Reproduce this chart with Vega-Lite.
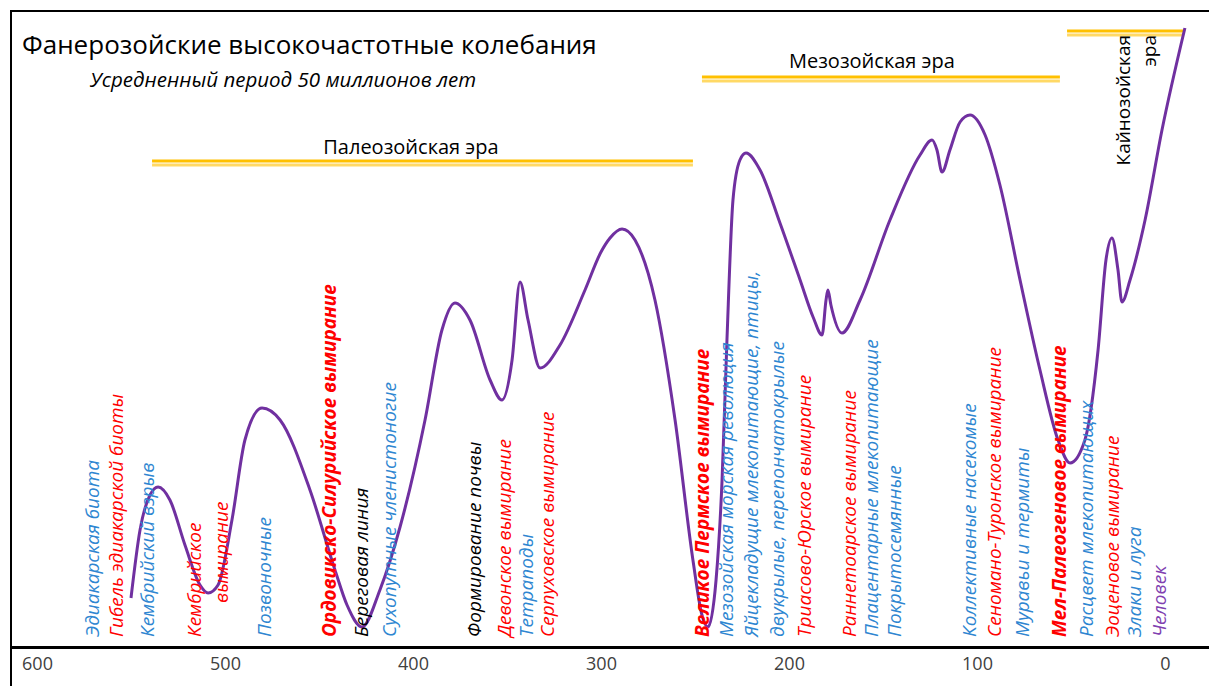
{
  "$schema": "https://vega.github.io/schema/vega-lite/v6.json",
  "width": 1200,
  "height": 677,
  "autosize": "none",
  "padding": {"left": 11, "top": 11, "right": 0, "bottom": 0},
  "background": "white",
  "config": {"view": {"stroke": "black", "strokeWidth": 2}, "font": "Open Sans"},
  "title": {
    "text": "Фанерозойские высокочастотные колебания",
    "anchor": "start",
    "frame": "group",
    "offset": -69,
    "dx": 11,
    "fontSize": 26,
    "fontWeight": "normal",
    "font": "Open Sans",
    "color": "black",
    "baseline": "alphabetic"
  },
  "datasets": {
    "curve": [
      {"age": 550.0, "v": 49}, {"age": 545.2, "v": 117}, {"age": 539.9, "v": 152}, {"age": 535.6, "v": 160},
      {"age": 529.3, "v": 147}, {"age": 521.3, "v": 102}, {"age": 513.3, "v": 62}, {"age": 509.0, "v": 54},
      {"age": 503.7, "v": 62}, {"age": 496.3, "v": 127}, {"age": 489.4, "v": 207}, {"age": 480.3, "v": 239},
      {"age": 470.7, "v": 227}, {"age": 454.8, "v": 157}, {"age": 441.5, "v": 77}, {"age": 435.1, "v": 42},
      {"age": 427.1, "v": 20}, {"age": 417.6, "v": 57}, {"age": 406.9, "v": 120}, {"age": 393.6, "v": 227},
      {"age": 384.6, "v": 317}, {"age": 377.7, "v": 344}, {"age": 369.7, "v": 327}, {"age": 359.0, "v": 267},
      {"age": 352.7, "v": 247}, {"age": 347.3, "v": 287}, {"age": 343.1, "v": 365}, {"age": 338.8, "v": 327},
      {"age": 332.4, "v": 279}, {"age": 321.8, "v": 302}, {"age": 308.5, "v": 357}, {"age": 300.0, "v": 395},
      {"age": 295.2, "v": 409}, {"age": 288.8, "v": 418}, {"age": 281.9, "v": 407}, {"age": 271.3, "v": 347},
      {"age": 260.6, "v": 227}, {"age": 251.1, "v": 87}, {"age": 246.3, "v": 32}, {"age": 243.1, "v": 20},
      {"age": 238.8, "v": 67}, {"age": 235.6, "v": 167}, {"age": 233.0, "v": 307}, {"age": 229.8, "v": 447},
      {"age": 226.1, "v": 487}, {"age": 222.9, "v": 494}, {"age": 215.4, "v": 477}, {"age": 204.8, "v": 424},
      {"age": 194.1, "v": 367}, {"age": 187.2, "v": 330}, {"age": 182.4, "v": 312}, {"age": 180.3, "v": 347},
      {"age": 179.3, "v": 357}, {"age": 177.7, "v": 342}, {"age": 171.8, "v": 314}, {"age": 162.2, "v": 347},
      {"age": 146.3, "v": 427}, {"age": 130.3, "v": 492}, {"age": 123.9, "v": 507}, {"age": 121.3, "v": 497},
      {"age": 118.6, "v": 475}, {"age": 114.4, "v": 497}, {"age": 109.0, "v": 525}, {"age": 103.7, "v": 532},
      {"age": 95.7, "v": 512}, {"age": 87.8, "v": 462}, {"age": 77.1, "v": 367}, {"age": 66.5, "v": 277},
      {"age": 56.9, "v": 207}, {"age": 50.5, "v": 184}, {"age": 42.6, "v": 207}, {"age": 35.6, "v": 297},
      {"age": 31.4, "v": 387}, {"age": 28.2, "v": 409}, {"age": 25.0, "v": 377}, {"age": 22.9, "v": 345},
      {"age": 18.6, "v": 367}, {"age": 10.6, "v": 427}, {"age": 1.6, "v": 517}, {"age": -10.6, "v": 619}
    ],
    "eras": [
      {"era": "Палеозойская эра", "age": 538.8, "age2": 251.1, "v": 486, "line": "a"},
      {"era": "Палеозойская эра", "age": 538.8, "age2": 251.1, "v": 482, "line": "b"},
      {"era": "Мезозойская эра", "age": 246.3, "age2": 55.9, "v": 570, "line": "a"},
      {"era": "Мезозойская эра", "age": 246.3, "age2": 55.9, "v": 566, "line": "b"},
      {"era": "Кайнозойская эра", "age": 52.1, "age2": -9.6, "v": 616, "line": "a"},
      {"era": "Кайнозойская эра", "age": 52.1, "age2": -9.6, "v": 612, "line": "b"}
    ],
    "eraLabels": [
      {"text": "Палеозойская эра", "age": 401.1, "v": 493},
      {"text": "Мезозойская эра", "age": 155.9, "v": 579}
    ],
    "cenozoic": [
      {"text": ["Кайнозойская", "эра"], "age": 26.6, "v": 612}
    ],
    "subtitle": [
      {"text": "Усредненный период 50 миллионов лет", "age": 571.8, "v": 560}
    ],
    "events": [
      {"text": "Эдиакарская биота", "age": 570.2, "v": 10, "kind": "life", "bold": false},
      {"text": "Гибель эдиакарской биоты", "age": 557.4, "v": 10, "kind": "extinction", "bold": false},
      {"text": "Кембрийский взрыв", "age": 541.0, "v": 10, "kind": "life", "bold": false},
      {"text": "Кембрийское", "age": 516.0, "v": 10, "kind": "extinction", "bold": false},
      {"text": "вымирание", "age": 501.6, "v": 44, "kind": "extinction", "bold": false},
      {"text": "Позвоночные", "age": 478.7, "v": 10, "kind": "life", "bold": false},
      {"text": "Ордовикско-Силурийское вымирание", "age": 444.1, "v": 10, "kind": "extinction", "bold": true},
      {"text": "Береговая линия", "age": 427.1, "v": 10, "kind": "other", "bold": false},
      {"text": "Сухопутные членистоногие", "age": 412.2, "v": 10, "kind": "life", "bold": false},
      {"text": "Формирование почвы", "age": 367.0, "v": 10, "kind": "other", "bold": false},
      {"text": "Девонское вымирание", "age": 351.1, "v": 10, "kind": "extinction", "bold": false},
      {"text": "Тетраподы", "age": 339.4, "v": 10, "kind": "life", "bold": false},
      {"text": "Серпуховское вымирание", "age": 328.2, "v": 10, "kind": "extinction", "bold": false},
      {"text": "Великое Пермское вымирание", "age": 245.7, "v": 10, "kind": "extinction", "bold": true},
      {"text": "Мезозойская морская революция", "age": 233.0, "v": 10, "kind": "life", "bold": false},
      {"text": "Яйцекладущие млекопитающие, птицы,", "age": 219.7, "v": 10, "kind": "life", "bold": false},
      {"text": "двукрылые, перепончатокрылые", "age": 205.9, "v": 10, "kind": "life", "bold": false},
      {"text": "Триасово-Юрское вымирание", "age": 191.5, "v": 10, "kind": "extinction", "bold": false},
      {"text": "Раннетоарское вымирание", "age": 167.6, "v": 10, "kind": "extinction", "bold": false},
      {"text": "Плацентарные млекопитающие", "age": 155.9, "v": 10, "kind": "life", "bold": false},
      {"text": "Покрытосемянные", "age": 143.6, "v": 10, "kind": "life", "bold": false},
      {"text": "Коллективные насекомые", "age": 103.7, "v": 10, "kind": "life", "bold": false},
      {"text": "Сеномано-Туронское вымирание", "age": 90.4, "v": 10, "kind": "extinction", "bold": false},
      {"text": "Муравьи и термиты", "age": 75.5, "v": 10, "kind": "life", "bold": false},
      {"text": "Мел-Палеогеновое вымирание", "age": 55.9, "v": 10, "kind": "extinction", "bold": true},
      {"text": "Расцвет млекопитающих", "age": 41.5, "v": 10, "kind": "life", "bold": false},
      {"text": "Эоценовое вымирание", "age": 27.7, "v": 10, "kind": "extinction", "bold": false},
      {"text": "Злаки и луга", "age": 16.0, "v": 10, "kind": "life", "bold": false},
      {"text": "Человек", "age": 2.7, "v": 10, "kind": "human", "bold": false}
    ]
  },
  "encoding": {
    "x": {
      "field": "age",
      "type": "quantitative",
      "scale": {"domain": [613.83, -24.47], "nice": false, "zero": false},
      "axis": {
        "values": [600, 500, 400, 300, 200, 100, 0],
        "offset": -41,
        "domainColor": "black",
        "domainWidth": 3,
        "ticks": false,
        "grid": false,
        "labelFontSize": 18,
        "labelFont": "Open Sans",
        "labelColor": "#404040",
        "labelPadding": 8,
        "title": null
      }
    },
    "y": {
      "field": "v",
      "type": "quantitative",
      "scale": {"domain": [-41, 636], "nice": false, "zero": false},
      "axis": null
    }
  },
  "layer": [
    {
      "data": {"name": "eras"},
      "transform": [{"filter": "datum.line === 'a'"}],
      "mark": {"type": "rule", "strokeWidth": 3, "color": "#FFC000"},
      "encoding": {"x2": {"field": "age2"}}
    },
    {
      "data": {"name": "eras"},
      "transform": [{"filter": "datum.line === 'b'"}],
      "mark": {"type": "rule", "strokeWidth": 3, "color": "#FFD966"},
      "encoding": {"x2": {"field": "age2"}}
    },
    {
      "data": {"name": "curve"},
      "mark": {"type": "line", "color": "#7030A0", "strokeWidth": 3, "interpolate": "monotone"},
      "encoding": {"order": {"field": "age", "type": "quantitative", "sort": "descending"}}
    },
    {
      "data": {"name": "events"},
      "transform": [{"filter": "!datum.bold"}],
      "mark": {"type": "text", "angle": 270, "align": "left", "baseline": "middle", "fontSize": 19, "fontStyle": "italic", "font": "Open Sans"},
      "encoding": {
        "text": {"field": "text"},
        "color": {"field": "kind", "type": "nominal", "scale": {"domain": ["life", "extinction", "other", "human"], "range": ["#2E86D1", "#FF0000", "#000000", "#8040B0"]}, "legend": null}
      }
    },
    {
      "data": {"name": "events"},
      "transform": [{"filter": "datum.bold"}],
      "mark": {"type": "text", "angle": 270, "align": "left", "baseline": "middle", "fontSize": 19, "fontStyle": "italic", "fontWeight": "bold", "font": "Open Sans"},
      "encoding": {
        "text": {"field": "text"},
        "color": {"field": "kind", "type": "nominal", "legend": null}
      }
    },
    {
      "data": {"name": "eraLabels"},
      "mark": {"type": "text", "align": "center", "baseline": "alphabetic", "fontSize": 20, "font": "Open Sans", "color": "black"},
      "encoding": {"text": {"field": "text"}}
    },
    {
      "data": {"name": "subtitle"},
      "mark": {"type": "text", "align": "left", "baseline": "alphabetic", "fontSize": 20.5, "fontStyle": "italic", "font": "Open Sans", "color": "black"},
      "encoding": {"text": {"field": "text"}}
    },
    {
      "data": {"name": "cenozoic"},
      "mark": {"type": "text", "angle": 270, "align": "right", "baseline": "top", "fontSize": 19, "lineHeight": 26, "font": "Open Sans", "color": "black"},
      "encoding": {"text": {"field": "text"}}
    }
  ]
}
